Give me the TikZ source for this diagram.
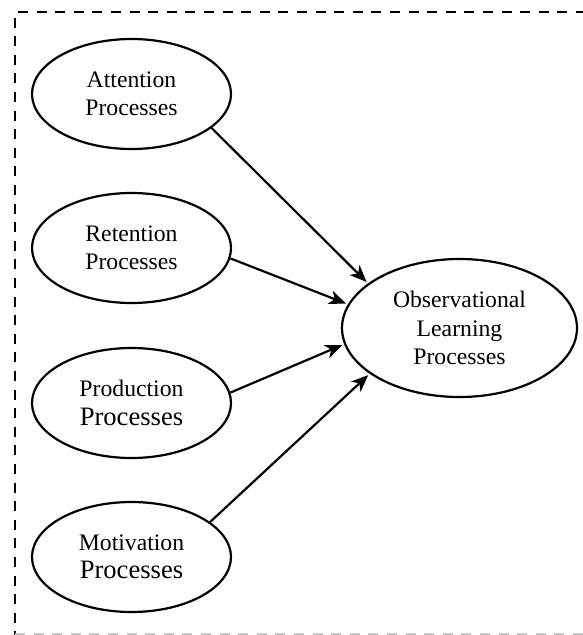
\documentclass[tikz,border=0pt]{standalone}
\usepackage{fontspec}
\setmainfont{Liberation Serif}
\usetikzlibrary{shapes.geometric,arrows.meta}
\begin{document}
\begin{tikzpicture}[x=1pt,y=-1pt,
  proc/.style={ellipse,draw,line width=2.2pt,inner sep=0pt,
    minimum width=199pt,minimum height=110pt,align=center,
    font=\fontsize{23.7}{28.3}\selectfont},
  goal/.style={proc,minimum width=235pt,minimum height=138pt},
  link/.style={line width=2.2pt,-{Stealth[length=17pt,width=14pt,inset=5pt]},shorten >=2pt},
  frame/.style={line width=2.8pt,dash pattern=on 10pt off 8.6pt},
  floor/.style={line width=1.8pt,color=black!22,dash pattern=on 10pt off 8.6pt}]
\useasboundingbox (0,0) rectangle (582,635);

% dashed enclosure
\draw[frame] (15,660) -- (15,12) -- (600,12);
\draw[floor] (15,634) -- (600,634);

% the four component processes
\node[proc] (att) at (131.5,94) {Attention\\Processes};
\node[proc] (ret) at (131.5,248) {Retention\\Processes};
\node[proc] (pro) at (131.5,403) {Production\\{\fontsize{26.6}{30}\selectfont Processes}};
\node[proc] (mot) at (131.5,557) {Motivation\\{\fontsize{26.6}{30}\selectfont Processes}};

% outcome
\node[goal] (obs) at (459.5,328) {Observational\\Learning\\Processes};

% connectors
\draw[link] (att.-23) -- (obs.154);
\draw[link] (ret.-6) -- (obs.168);
\draw[link] (pro.6) -- (obs.-172);
\draw[link] (mot.24) -- (obs.-153);
\end{tikzpicture}
\end{document}
